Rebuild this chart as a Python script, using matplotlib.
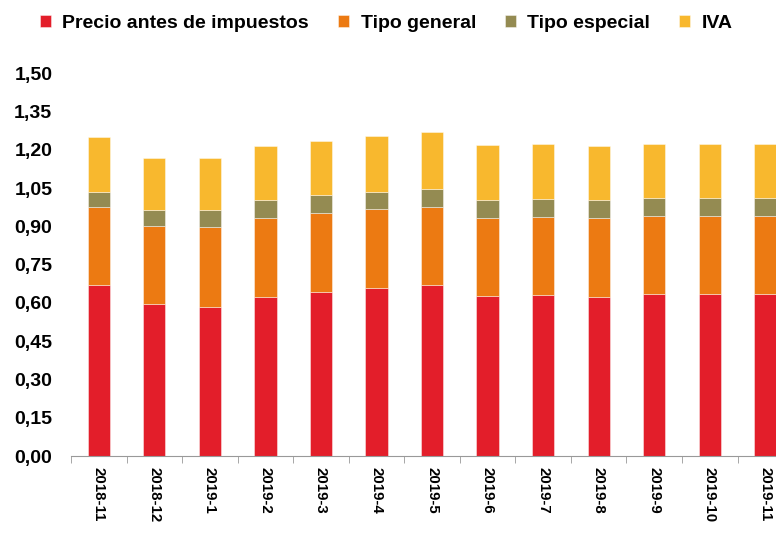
import numpy as np
import matplotlib
matplotlib.use("Agg")
import matplotlib.pyplot as plt

plt.rcParams['font.family'] = ['Liberation Sans', 'DejaVu Sans']

months = ['2018-11', '2018-12', '2019-1', '2019-2', '2019-3', '2019-4', '2019-5',
          '2019-6', '2019-7', '2019-8', '2019-9', '2019-10', '2019-11']
precio = [0.669, 0.597, 0.585, 0.624, 0.644, 0.659, 0.669, 0.628, 0.631, 0.624, 0.633, 0.633, 0.633]
tipo_general = [0.306, 0.305, 0.311, 0.307, 0.308, 0.307, 0.306, 0.303, 0.304, 0.307, 0.308, 0.306, 0.308]
tipo_especial = [0.059, 0.060, 0.069, 0.072, 0.072, 0.069, 0.071, 0.074, 0.073, 0.072, 0.071, 0.070, 0.071]
iva = [0.217, 0.204, 0.201, 0.210, 0.212, 0.218, 0.222, 0.212, 0.213, 0.210, 0.211, 0.214, 0.211]

series = [('Precio antes de impuestos', precio, '#e31e2a'),
          ('Tipo general', tipo_general, '#ec7a12'),
          ('Tipo especial', tipo_especial, '#948b52'),
          ('IVA', iva, '#f8b82e')]

fig = plt.figure(figsize=(7.76, 5.34), dpi=100)
ax = fig.add_axes([0.0915, 0.146, 0.9305, 0.717])

x = np.arange(len(months))
bottom = np.zeros(len(months))
for name, vals, col in series:
    ax.bar(x, vals, 0.4, bottom=bottom, color=col, label=name,
           edgecolor=(1, 1, 1, 0.5), linewidth=0.6)
    bottom += np.array(vals)

ax.set_xlim(-0.5, len(months) - 0.5)
ax.set_ylim(0, 1.5)
ax.set_yticks(np.arange(0, 1.51, 0.15))
ax.set_yticklabels([f'{v:.2f}'.replace('.', ',') for v in np.arange(0, 1.51, 0.15)],
                   fontsize=14, fontweight='bold')
ax.tick_params(axis='y', length=0, pad=13.5)

ax.set_xticks(x)
ax.set_xticklabels(months, rotation=270, fontsize=10.8, fontweight='bold')
ax.tick_params(axis='x', length=0, pad=8)
ax.set_xticks(np.arange(-0.5, len(months), 1), minor=True)
ax.tick_params(axis='x', which='minor', length=5, color='#999999')

for s in ['top', 'right', 'left']:
    ax.spines[s].set_visible(False)
ax.spines['bottom'].set_color('#999999')

fig.legend(loc='upper left', bbox_to_anchor=(0.029, 1.005), ncol=4, frameon=False,
           prop={'weight': 'bold', 'size': 14}, handlelength=0.55, handleheight=0.55,
           handletextpad=0.6, columnspacing=1.5)

plt.savefig('out.png', dpi=100)
